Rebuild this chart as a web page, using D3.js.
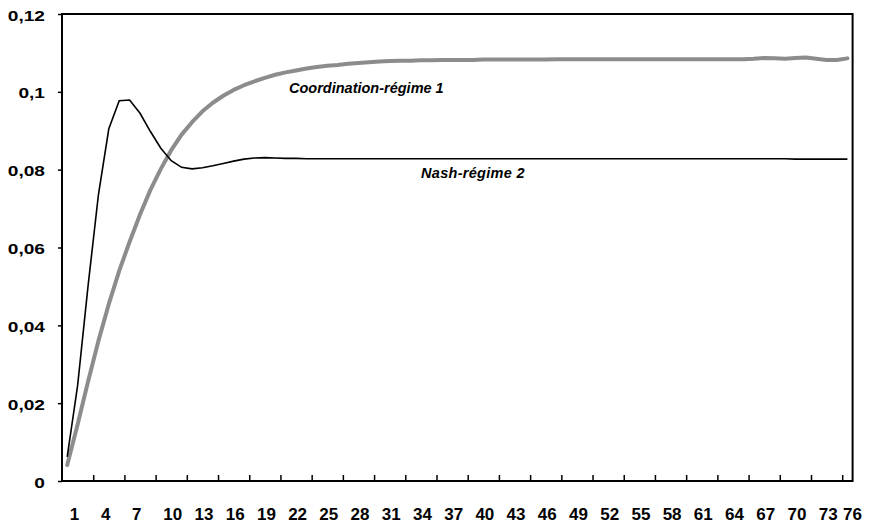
<!DOCTYPE html>
<html lang="fr">
<head>
    <meta charset="UTF-8">
    <title>Coordination vs Nash</title>
    <script src="https://d3js.org/d3.v7.min.js"></script>
    <style>
        body {
            margin: 0;
            padding: 0;
            background: #fff;
        }
        svg text {
            font-family: "Liberation Sans", Arial, sans-serif;
            font-weight: bold;
            fill: #000;
        }
    </style>
</head>
<body>
    <div id="chart"></div>

    <script>
        // periods 1..76
        const categories = d3.range(1, 77);

        const xTickLabels = [1, 4, 7, 10, 13, 16, 19, 22, 25, 28, 31, 34, 37, 40, 43, 46, 49, 52, 55, 58, 61, 64, 67, 70, 73, 76];
        const yTickValues = [0, 0.02, 0.04, 0.06, 0.08, 0.1, 0.12];
        const yTickLabels = ["0", "0,02", "0,04", "0,06", "0,08", "0,1", "0,12"];

        const seriesNames = ["Coordination-régime 1", "Nash-régime 2"];

        const coordValues = [
            0.0041, 0.0145, 0.0255, 0.0360, 0.0455, 0.0540, 0.0615, 0.0685, 0.0748, 0.0802,
            0.0850, 0.0890, 0.0922, 0.0950, 0.0972, 0.0990, 0.1005, 0.1017, 0.1027, 0.1036,
            0.1044, 0.1050, 0.1055, 0.1060, 0.1064, 0.1067, 0.1069, 0.1072, 0.1074, 0.1076,
            0.1078, 0.1079, 0.1080, 0.1080, 0.1081, 0.1081, 0.1082, 0.1082, 0.1082, 0.1082,
            0.1083, 0.1083, 0.1083, 0.1083, 0.1083, 0.1083, 0.1083, 0.1084, 0.1084, 0.1084,
            0.1084, 0.1084, 0.1084, 0.1084, 0.1084, 0.1084, 0.1084, 0.1084, 0.1084, 0.1084,
            0.1084, 0.1084, 0.1084, 0.1084, 0.1084, 0.1084, 0.1085, 0.1087, 0.1086, 0.1085,
            0.1087, 0.1088, 0.1085, 0.1082, 0.1082, 0.1086
        ];

        const nashValues = [
            0.0062, 0.0245, 0.0500, 0.0735, 0.0905, 0.0977, 0.0979, 0.0945, 0.0898, 0.0855,
            0.0823, 0.0806, 0.0802, 0.0805, 0.0810, 0.0816, 0.0822, 0.0827, 0.0830, 0.0831,
            0.0830, 0.0829, 0.0829, 0.0828, 0.0828, 0.0828, 0.0828, 0.0828, 0.0828, 0.0828,
            0.0828, 0.0828, 0.0828, 0.0828, 0.0828, 0.0828, 0.0828, 0.0828, 0.0828, 0.0828,
            0.0828, 0.0828, 0.0828, 0.0828, 0.0828, 0.0828, 0.0828, 0.0828, 0.0828, 0.0828,
            0.0828, 0.0828, 0.0828, 0.0828, 0.0828, 0.0828, 0.0828, 0.0828, 0.0828, 0.0828,
            0.0828, 0.0828, 0.0828, 0.0828, 0.0828, 0.0828, 0.0828, 0.0828, 0.0828, 0.0828,
            0.0827, 0.0827, 0.0827, 0.0827, 0.0827, 0.0827
        ];

        const width = 874, height = 529;
        const plot = { left: 62, right: 852.6, top: 14, bottom: 481 };

        const svg = d3.select("#chart")
            .append("svg")
            .attr("width", width)
            .attr("height", height);

        svg.append("rect")
            .attr("width", width)
            .attr("height", height)
            .attr("fill", "#fff");

        // band scale for categories, linear one for boundaries
        const x = d3.scaleBand()
            .domain(categories)
            .range([plot.left, plot.right])
            .padding(0);
        const xEdge = d3.scaleLinear()
            .domain([0, categories.length])
            .range([plot.left, plot.right]);
        const y = d3.scaleLinear()
            .domain([0, 0.12])
            .range([plot.bottom, plot.top]);

        const cx = d => x(d) + x.bandwidth() / 2;

        // y axis
        const yAxis = svg.append("g")
            .attr("transform", `translate(${plot.left},0)`)
            .call(d3.axisLeft(y)
                .tickValues(yTickValues)
                .tickSize(4)
                .tickFormat((d, i) => yTickLabels[i]));
        yAxis.select(".domain").remove();
        yAxis.selectAll(".tick line").attr("stroke", "#000").attr("stroke-width", 1.5);
        yAxis.selectAll(".tick text")
            .attr("x", -17 / 1.32)
            .attr("dy", "0.42em")
            .attr("transform", "scale(1.32,1)")
            .style("font-size", "14.5px");

        // x axis: ticks at category boundaries, pointing inward
        const xAxis = svg.append("g")
            .attr("transform", `translate(0,${plot.bottom})`)
            .call(d3.axisBottom(xEdge)
                .tickValues(d3.range(3, categories.length, 3))
                .tickSize(-6)
                .tickFormat(""));
        xAxis.select(".domain").remove();
        xAxis.selectAll(".tick line").attr("stroke", "#000").attr("stroke-width", 1.5);

        // x labels, left-anchored just right of the category centre
        const labelG = svg.append("g");
        labelG.selectAll("text")
            .data(xTickLabels)
            .enter()
            .append("text")
            .attr("x", d => Math.min(cx(d) + 2.5, 843))
            .attr("y", 520)
            .style("font-size", "17px")
            .text(d => d);

        // frame
        svg.append("rect")
            .attr("x", plot.left)
            .attr("y", plot.top)
            .attr("width", plot.right - plot.left)
            .attr("height", plot.bottom - plot.top)
            .attr("fill", "none")
            .attr("stroke", "#000")
            .attr("stroke-width", 2);

        const line = d3.line()
            .x((d, i) => cx(categories[i]))
            .y(d => y(d));

        svg.append("path")
            .datum(coordValues)
            .attr("d", line)
            .attr("fill", "none")
            .attr("stroke", "#8c8c8c")
            .attr("stroke-width", 4)
            .attr("stroke-linejoin", "round")
            .attr("stroke-linecap", "round");

        svg.append("path")
            .datum(nashValues)
            .attr("d", line)
            .attr("fill", "none")
            .attr("stroke", "#000")
            .attr("stroke-width", 1.6)
            .attr("stroke-linejoin", "miter");

        // series labels
        svg.append("text")
            .attr("x", 289)
            .attr("y", 92.5)
            .style("font-size", "14.5px")
            .style("font-style", "italic")
            .text(seriesNames[0]);

        svg.append("text")
            .attr("x", 421)
            .attr("y", 178.3)
            .style("font-size", "14.5px")
            .style("font-style", "italic")
            .attr("letter-spacing", "0.3")
            .text(seriesNames[1]);
    </script>
</body>
</html>
